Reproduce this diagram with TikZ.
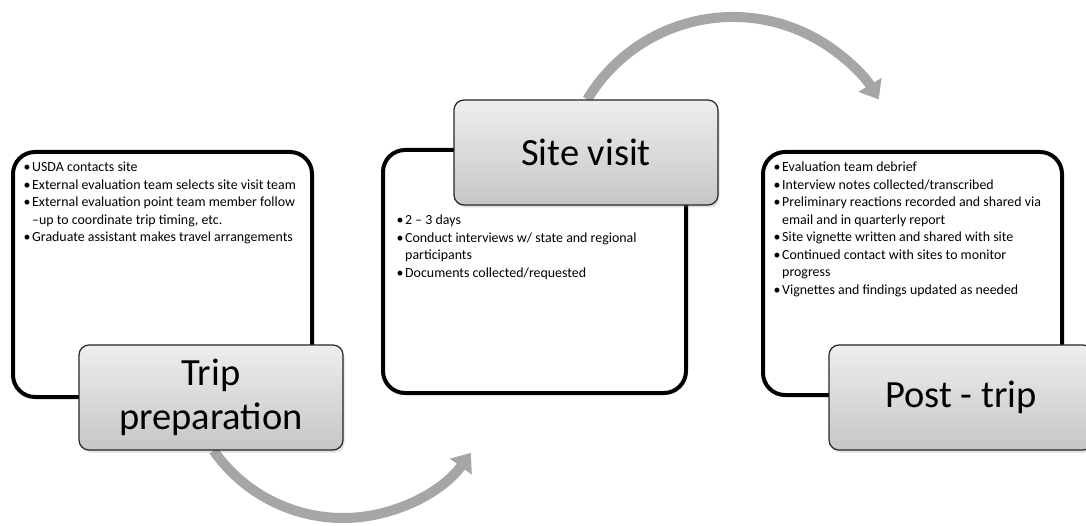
\documentclass[tikz,border=0pt]{standalone}
\usepackage{fontspec}
\setmainfont{Carlito}
\usetikzlibrary{arrows.meta,shadows,calc}
\definecolor{arcgray}{HTML}{A6A6A6}
\definecolor{boxtop}{HTML}{EEEEEE}
\definecolor{boxbot}{HTML}{C6C6C6}
\definecolor{boxline}{HTML}{262626}
\newcommand\bitem[1]{\par\hangindent=9pt\hangafter=1\noindent\makebox[9pt][l]{\kern0.5pt\textbullet}#1}
\newcommand\bodytext[2]{\parbox[t]{#1}{\fontsize{13.9}{17.5}\selectfont\raggedright #2}}
\tikzset{
  outerbox/.style={draw=black, line width=4pt, fill=white, rounded corners=22pt, inner sep=0pt},
  titlebox/.style={draw=boxline, line width=1.2pt, rounded corners=10pt, top color=boxtop, bottom color=boxbot,
    minimum width=264pt, minimum height=105pt, inner sep=0pt, align=center,
    font=\fontsize{38.5}{44}\selectfont,
    drop shadow={opacity=0.25, shadow xshift=1.5pt, shadow yshift=-2.5pt}},
  bodynode/.style={anchor=base west, inner sep=0pt},
  cyclearrow/.style={draw=arcgray, line width=10pt, -{Triangle[width=26pt,length=17pt]}}
}
\begin{document}
\begin{tikzpicture}[x=1pt,y=1pt]
\useasboundingbox (0,0) rectangle (1086,525);
\clip (0,0) rectangle (1086,525);
% outer boxes
\node[outerbox, minimum width=299pt, minimum height=245pt] (lb) at (162.5,250.5) {};
\node[outerbox, minimum width=303pt, minimum height=243pt] (mb) at (534.5,253.5) {};
\node[outerbox, minimum width=299pt, minimum height=243pt] (rb) at (912.5,251.5) {};
% body texts
\node[bodynode] (lt) at (23,353) {\bodytext{300pt}{%
\bitem{USDA contacts site}
\bitem{External evaluation team selects site visit team}
\bitem{External evaluation point team member follow\newline –up to coordinate trip timing, etc.}
\bitem{Graduate assistant makes travel arrangements}}};
\node[bodynode] (mt) at (396,300) {\bodytext{300pt}{%
\bitem{2 – 3 days}
\bitem{Conduct interviews w/ state and regional\newline participants}
\bitem{Documents collected/requested}}};
\node[bodynode] (rt) at (773,353) {\bodytext{300pt}{%
\bitem{Evaluation team debrief}
\bitem{Interview notes collected/transcribed}
\bitem{Preliminary reactions recorded and shared via\newline email and in quarterly report}
\bitem{Site vignette written and shared with site}
\bitem{Continued contact with sites to monitor\newline progress}
\bitem{Vignettes and findings updated as needed}}};
% arcs
\coordinate (a1s) at ($(343,165)+(215:158)$);
\coordinate (a2s) at ($(733,338)+(149:170)$);
\draw[cyclearrow] (a1s) arc[start angle=215, end angle=324, radius=158];
\draw[cyclearrow] (a2s) arc[start angle=149, end angle=31, radius=170];
% title boxes
\node[titlebox] (tp) at (211,127.5) {Trip\\preparation};
\node[titlebox] (sv) at (586,372.5) {Site visit};
\node[titlebox] (pt) at (961,127.5) {Post - trip};
\end{tikzpicture}
\end{document}
